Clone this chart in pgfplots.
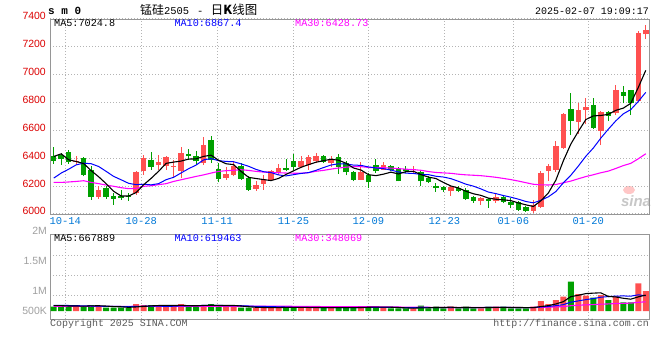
\documentclass[border=0pt]{standalone}
\usepackage{pgfplots}
\pgfplotsset{compat=1.18}
\usepackage{pgfplotstable}
\usepackage{fontspec}
\setmainfont{Liberation Mono}
\newfontfamily\cjk{Noto Sans CJK SC}
\newfontfamily\sansf{Liberation Sans}
\definecolor{cred}{RGB}{255,80,80}
\definecolor{cgreen}{RGB}{0,160,0}
\definecolor{cblue}{RGB}{0,0,255}
\definecolor{cmag}{RGB}{255,0,255}
\definecolor{cgrid}{RGB}{180,180,180}
\definecolor{cframe}{RGB}{150,150,150}
\definecolor{cpricelab}{RGB}{220,0,0}
\definecolor{cdatelab}{RGB}{0,120,215}
\definecolor{cvollab}{RGB}{160,160,160}
\definecolor{cfoot}{RGB}{90,90,90}

% up (red) candles: index open high low close
\pgfplotstableread{
i o h l c
3 6369 6417 6352 6383
6 6122 6202 6107 6174
11 6150 6310 6138 6300
12 6307 6424 6281 6400
14 6350 6424 6317 6369
15 6345 6412 6317 6405
16 6338 6388 6255 6345
17 6310 6483 6255 6436
20 6364 6555 6352 6495
23 6260 6336 6245 6288
24 6281 6376 6269 6345
27 6181 6233 6167 6210
28 6217 6281 6174 6250
29 6245 6317 6240 6310
30 6293 6360 6281 6329
33 6340 6412 6329 6376
34 6348 6424 6317 6405
35 6376 6440 6364 6417
37 6364 6417 6336 6393
41 6245 6369 6245 6298
44 6317 6369 6312 6352
48 6312 6345 6293 6317
53 6162 6202 6131 6190
57 6091 6122 6067 6112
59 6091 6150 6079 6122
64 6023 6100 6004 6064
65 6052 6308 6045 6291
66 6310 6358 6238 6344
67 6315 6523 6303 6487
68 6470 6726 6466 6717
70 6662 6793 6573 6745
71 6748 6829 6642 6769
73 6597 6741 6494 6733
75 6721 6925 6709 6889
78 6810 7315 6805 7300
79 7288 7355 7255 7319
}\upc

% down (green) candles
\pgfplotstableread{
i o h l c
0 6412 6483 6360 6376
1 6424 6440 6352 6393
2 6445 6460 6360 6371
4 6400 6405 6269 6281
5 6317 6345 6103 6122
7 6183 6202 6107 6122
8 6131 6150 6067 6110
9 6131 6174 6100 6114
10 6131 6150 6093 6122
13 6388 6443 6317 6340
18 6433 6464 6388 6412
19 6417 6448 6352 6376
21 6531 6559 6364 6388
22 6321 6364 6226 6252
25 6345 6364 6245 6252
26 6257 6269 6167 6174
31 6329 6393 6305 6317
32 6383 6431 6317 6340
36 6417 6424 6364 6371
38 6405 6431 6288 6340
39 6364 6376 6276 6298
40 6298 6305 6233 6245
42 6276 6293 6188 6226
43 6352 6393 6293 6305
45 6345 6352 6305 6317
46 6321 6340 6233 6233
47 6321 6345 6293 6310
49 6298 6305 6197 6233
50 6257 6274 6221 6226
51 6202 6221 6160 6183
52 6190 6202 6160 6169
54 6183 6202 6155 6162
55 6174 6186 6100 6110
56 6119 6131 6079 6091
58 6107 6114 6043 6091
60 6123 6135 6076 6088
61 6088 6116 6040 6064
62 6083 6092 6023 6028
63 6052 6059 6016 6023
69 6753 6865 6566 6666
72 6781 6829 6609 6619
74 6733 6738 6666 6705
76 6872 6918 6793 6848
77 6889 6889 6709 6793
}\dnc

% price moving averages
\pgfplotstableread{
i m5 m10 m30
0 6412 6257 6226
1 6431 6293 6226
2 6388 6321 6229
3 6376 6352 6233
4 6360.8 6364 6238
5 6310 6360 6226
6 6266.2 6340 6217
7 6216.4 6305 6207
8 6161.8 6269 6198
9 6128.4 6244.6 6188
10 6128.4 6219.2 6181
11 6153.6 6209.9 6183
12 6209.2 6212.8 6198
13 6255.2 6208.5 6202
14 6306.2 6217.3 6210
15 6362.8 6245.6 6217
16 6371.8 6262.7 6233
17 6379 6294.1 6245
18 6393.4 6324.3 6257
19 6394.8 6350.5 6269
20 6412.8 6387.8 6280
21 6421.4 6396.6 6293
22 6384.6 6381.8 6305
23 6359.8 6376.6 6310
24 6353.6 6374.2 6313
25 6305 6358.9 6317
26 6262.2 6341.8 6312
27 6253.8 6319.2 6305
28 6246.2 6303 6300
29 6239.2 6296.4 6297.2
30 6254.6 6279.8 6295.6
31 6283.2 6272.7 6293.1
32 6309.2 6281.5 6292
33 6334.4 6290.3 6291.8
34 6353.4 6296.3 6295.9
35 6371 6312.8 6305.8
36 6381.8 6332.5 6312.3
37 6392.4 6350.8 6321.4
38 6385.2 6359.8 6329
39 6363.8 6358.6 6335.2
40 6329.4 6350.2 6339.3
41 6314.8 6348.3 6339.2
42 6281.4 6336.9 6333.4
43 6274.4 6329.8 6332.2
44 6285.2 6324.5 6331.7
45 6299.6 6314.5 6328.7
46 6286.6 6300.7 6325
47 6303.4 6292.4 6320.8
48 6305.8 6290.1 6317.6
49 6282 6283.6 6312.9
50 6263.8 6281.7 6303.9
51 6253.8 6270.2 6297.1
52 6225.6 6264.5 6294.3
53 6200.2 6253 6291
54 6186 6234 6284.9
55 6162.8 6213.3 6280.2
56 6144.4 6199.1 6277.4
57 6133 6179.3 6274.2
58 6113.2 6156.7 6268.9
59 6105.2 6145.6 6262.6
60 6100.8 6131.8 6254.6
61 6095.4 6119.9 6246.1
62 6078.6 6105.8 6235.7
63 6065 6089.1 6224
64 6053.4 6079.3 6212.6
65 6094 6097.4 6208.4
66 6150 6122.7 6207.5
67 6241.8 6160.2 6210.6
68 6380.6 6222.8 6223.2
69 6501 6277.2 6235.5
70 6591.8 6342.9 6252.1
71 6676.8 6413.4 6267.8
72 6703.2 6472.5 6280.9
73 6706.4 6543.5 6295.2
74 6714.2 6607.6 6307
75 6743 6667.4 6326
76 6758.8 6717.8 6346.5
77 6793.6 6748.4 6362.6
78 6907 6806.7 6395.4
79 7029.8 6872 6431.6
}\mat

% volumes (thousands)
\pgfplotstableread{
i v
3 252
6 210
11 294
12 252
14 210
15 182
16 252
17 294
20 252
23 182
24 182
27 140
28 140
29 140
30 140
33 140
34 140
35 140
37 140
41 182
44 140
48 112
53 182
57 112
59 182
64 182
65 420
66 294
67 462
68 602
70 714
71 644
73 672
75 616
78 1162
79 840
}\vup

\pgfplotstableread{
i v
0 182
1 182
2 210
4 182
5 252
7 140
8 140
9 140
10 140
13 252
18 182
19 182
21 294
22 252
25 140
26 140
31 210
32 140
36 140
38 140
39 140
40 140
42 182
43 182
45 112
46 112
47 112
49 224
50 112
51 182
52 112
54 112
55 182
56 112
58 182
60 182
61 112
62 112
63 112
69 1232
72 560
74 462
76 364
77 364
}\vdn

\pgfplotstableread{
i m5 m10 m30
0 224 238 196
1 224 238 196
2 210 231 196
3 210 224 196
4 201.6 217 196
5 215.6 210 196
6 221.2 203 196
7 207.2 196 196
8 184.8 193.2 196
9 176.4 189 196
10 154 184.8 196
11 170.8 196 196
12 193.2 200.2 196
13 215.6 200.2 196
14 229.6 203 196
15 238 196 196
16 229.6 200.2 196
17 238 215.6 196
18 224 219.8 196
19 218.4 224 196
20 232.4 235.2 196
21 240.8 235.2 197
22 232.4 235.2 198
23 232.4 228.2 199
24 232.4 225.4 200
25 210 221.2 200
26 179.2 210 200
27 156.8 194.6 200
28 148.4 190.4 200
29 140 186.2 199.8
30 140 175 198.4
31 154 166.6 199.2
32 154 155.4 197
33 154 151.2 193.2
34 154 147 191.8
35 154 147 188
36 140 147 185.8
37 140 147 185.8
38 140 147 185.8
39 140 147 185.8
40 140 147 185.8
41 148.4 144.2 182
42 156.8 148.4 179.6
43 165.2 152.6 177.4
44 165.2 152.6 175
45 159.6 149.8 172.6
46 145.6 147 168
47 131.6 144.2 162
48 117.6 141.4 159.6
49 134.4 149.8 161
50 134.4 147 156.4
51 148.4 147 152.6
52 148.4 140 148
53 162.4 140 148
54 140 137.2 145.6
55 154 144.2 147
56 140 144.2 146
57 140 144.2 145.2
58 140 151.2 146.6
59 154 147 148
60 154 154 149.4
61 154 147 146
62 154 147 145.2
63 140 140 144.2
64 140 147 145.6
65 187.6 170.8 155
66 224 189 160
67 294 224 170.8
68 392 266 186.2
69 602 371 222.6
70 660.8 424.2 241.8
71 730.8 477.4 257.2
72 750.4 522.2 269.8
73 764.4 578.2 286
74 610.4 606.2 296.8
75 590.8 625.8 313.6
76 534.8 632.8 322
77 495.6 623 330.4
78 593.6 679 365.4
79 669.2 639.8 386
}\vma

\pgfplotsset{
  kpanel/.style={
    scale only axis, anchor=south west,
    width=599.5bp,
    xmin=-0.5, xmax=79.5,
    axis line style={cframe},
    major tick length=0pt,
    grid=major,
    major grid style={cgrid, line width=0.8bp, dash pattern=on 1bp off 2bp},
    xtick={1.54,11.67,21.81,31.99,41.99,52.13,61.33,71.33},
    /pgf/number format/assume math mode=true,
  },
  wick/.style={draw=none, mark=none, forget plot,
    error bars/.cd, y dir=plus, y explicit, error mark=none,
    error bar style={draw=#1, solid, line width=1bp, line cap=butt}},
  body/.style={draw=none, mark=none, forget plot,
    error bars/.cd, y dir=plus, y explicit, error mark=none,
    error bar style={draw=#1, solid, line width=5.5bp, line cap=butt}},
}

\begin{document}
\begin{tikzpicture}
\useasboundingbox (0bp,0bp) rectangle (660bp,360bp);
\fill[white] (0bp,0bp) rectangle (660bp,360bp);

% watermark
\fill[red!22] (629bp,170bp) ellipse (6bp and 4bp);
\node[inner sep=0pt, text=black!22] at (636bp,159bp) {\sansf\bfseries\itshape\fontsize{15}{15}\selectfont sina};

% header texts
\node[anchor=west, inner sep=0pt] at (48bp,349bp) {\fontsize{11}{11}\selectfont\bfseries s m 0};
\node[anchor=base west, inner sep=0pt] at (140bp,345.5bp) {{\cjk\fontsize{12}{12}\selectfont 锰硅}{\fontsize{10.5}{10.5}\selectfont 2505}\hspace{8bp}{\fontsize{10.5}{10.5}\selectfont -}\hspace{7.5bp}{\cjk\fontsize{12.5}{12.5}\selectfont 日\textbf{K}线图}};
\node[anchor=east, inner sep=0pt] at (649bp,348.5bp) {\fontsize{10}{10}\selectfont 2025-02-07 19:09:17};

% price panel
\begin{axis}[kpanel,
  at={(50bp,146.1bp)}, height=195.1bp,
  ymin=6000, ymax=7400,
  ytick={6000,6200,6400,6600,6800,7000,7200,7400},
  yticklabels={6000,6200,6400,6600,6800,7000,7200,7400},
  xticklabels={10-14,10-28,11-11,11-25,12-09,12-23,01-06,01-20},
  yticklabel style={text=cpricelab, anchor=east, inner sep=0pt, xshift=-4bp, yshift=2.5bp, font=\sansf\fontsize{10.5}{10.5}\selectfont},
  xticklabel style={text=cdatelab, anchor=north, inner sep=0pt, yshift=-3.5bp, font=\fontsize{10.5}{10.5}\selectfont},
]
\addplot[wick=cred] table[x=i, y=l, y error plus expr={\thisrow{h}-\thisrow{l}}] {\upc};
\addplot[body=cred] table[x=i, y=o, y error plus expr={max(\thisrow{c}-\thisrow{o},7)}] {\upc};
\addplot[wick=cgreen] table[x=i, y=l, y error plus expr={\thisrow{h}-\thisrow{l}}] {\dnc};
\addplot[body=cgreen] table[x=i, y=c, y error plus expr={max(\thisrow{o}-\thisrow{c},7)}] {\dnc};
\addplot[cmag, line width=1.1bp] table[x=i, y=m30] {\mat};
\addplot[cblue, line width=1bp] table[x=i, y=m10] {\mat};
\addplot[black, line width=1.1bp] table[x=i, y=m5] {\mat};
\end{axis}

\node[anchor=west, inner sep=0pt] at (54bp,336.5bp) {\fontsize{10.2}{10}\selectfont MA5:7024.8};
\node[anchor=west, inner sep=0pt, text=cblue] at (174.3bp,336.5bp) {\fontsize{10.2}{10}\selectfont MA10:6867.4};
\node[anchor=west, inner sep=0pt, text=cmag] at (295bp,336.5bp) {\fontsize{10.2}{10}\selectfont MA30:6428.73};

% volume panel
\begin{axis}[kpanel,
  at={(50bp,41bp)}, height=84.5bp,
  ymin=-336, ymax=3213,
  ytick={672,1512,2352}, yticklabels={},
  xticklabels={},
]
\addplot[ybar, bar width=6bp, fill=cred, draw=none, forget plot] table[x=i, y=v] {\vup};
\addplot[ybar, bar width=6bp, fill=cgreen, draw=none, forget plot] table[x=i, y=v] {\vdn};
\addplot[cmag, line width=1.1bp] table[x=i, y=m30] {\vma};
\addplot[cblue, line width=1bp] table[x=i, y=m10] {\vma};
\addplot[black, line width=1.1bp] table[x=i, y=m5] {\vma};
\end{axis}

\node[anchor=west, inner sep=0pt] at (54bp,121.5bp) {\fontsize{10.2}{10}\selectfont MA5:667889};
\node[anchor=west, inner sep=0pt, text=cblue] at (174.3bp,121.5bp) {\fontsize{10.2}{10}\selectfont MA10:619463};
\node[anchor=west, inner sep=0pt, text=cmag] at (295bp,121.5bp) {\fontsize{10.2}{10}\selectfont MA30:348069};

% volume axis labels
\begin{scope}[every node/.style={anchor=east, inner sep=0pt, text=cvollab, font=\sansf\fontsize{10.5}{10.5}\selectfont}]
\node at (47bp,129bp) {2M};
\node at (47bp,99.5bp) {1.5M};
\node at (47bp,69.5bp) {1M};
\node at (47bp,49.5bp) {500K};
\end{scope}

% footer
\node[anchor=west, inner sep=0pt, text=cfoot] at (50bp,36bp) {\fontsize{10}{10}\selectfont Copyright 2025 SINA.COM};
\node[anchor=east, inner sep=0pt, text=cfoot] at (649bp,36bp) {\fontsize{10}{10}\selectfont http://finance.sina.com.cn};
\end{tikzpicture}
\end{document}
